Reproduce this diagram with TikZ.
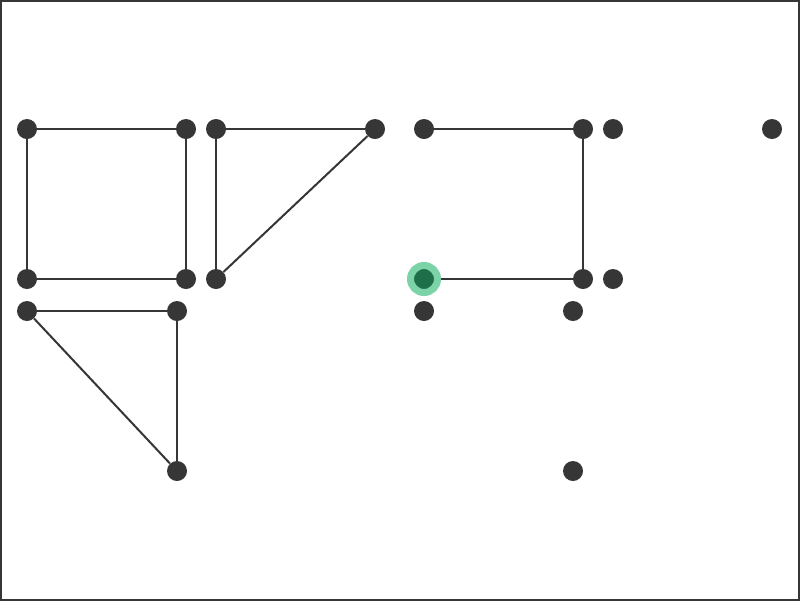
\documentclass[tikz,border=0pt]{standalone}
\usepackage{tikz}
\usepackage{xcolor}
\definecolor{dotgray}{HTML}{363636}
\definecolor{ringgreen}{HTML}{7DD3A8}
\definecolor{coregreen}{HTML}{1E6E4A}
\tikzset{vertex/.style={circle,fill=dotgray,inner sep=0pt,minimum size=0.5cm},
	picked/.style={circle,fill=coregreen,inner sep=0pt,minimum size=0.675cm,
		draw=ringgreen,line width=0.175cm}}

\begin{document}
\begin{tikzpicture}[x=0.025cm,y=-0.025cm]
		\useasboundingbox (0,0) rectangle (800,601);
		\draw[dotgray,line width=0.06cm] (1,1) rectangle (799,600);
		\begin{scope}[every node/.style={vertex}]
			\node (A1) at (27,129) {};
			\node (A2) at (186,129) {};
			\node (A3) at (27,279) {};
			\node (A4) at (186,279) {};
			\node (B1) at (216,129) {};
			\node (B2) at (375,129) {};
			\node (B3) at (216,279) {};
			\node (C1) at (424,129) {};
			\node (C2) at (583,129) {};
			\node (C4) at (583,279) {};
			\node (D1) at (613,129) {};
			\node (D2) at (772,129) {};
			\node (D3) at (613,279) {};
			\node (E1) at (27,311) {};
			\node (E2) at (177,311) {};
			\node (E3) at (177,471) {};
			\node (F1) at (424,311) {};
			\node (F2) at (573,311) {};
			\node (F3) at (573,471) {};
		\end{scope}
		\node[picked] (C3) at (424,279) {};
		\begin{scope}[every edge/.style={draw=dotgray,line width=0.05cm}]
			\path (A1) edge (A2);
			\path (A1) edge (A3);
			\path (A2) edge (A4);
			\path (A3) edge (A4);
			\path (B1) edge (B2);
			\path (B1) edge (B3);
			\path (B3) edge (B2);
			\path (C1) edge (C2);
			\path (C2) edge (C4);
			\path (C3) edge (C4);
			\path (E1) edge (E2);
			\path (E2) edge (E3);
			\path (E1) edge (E3);
		\end{scope}
	\end{tikzpicture}
\end{document}
